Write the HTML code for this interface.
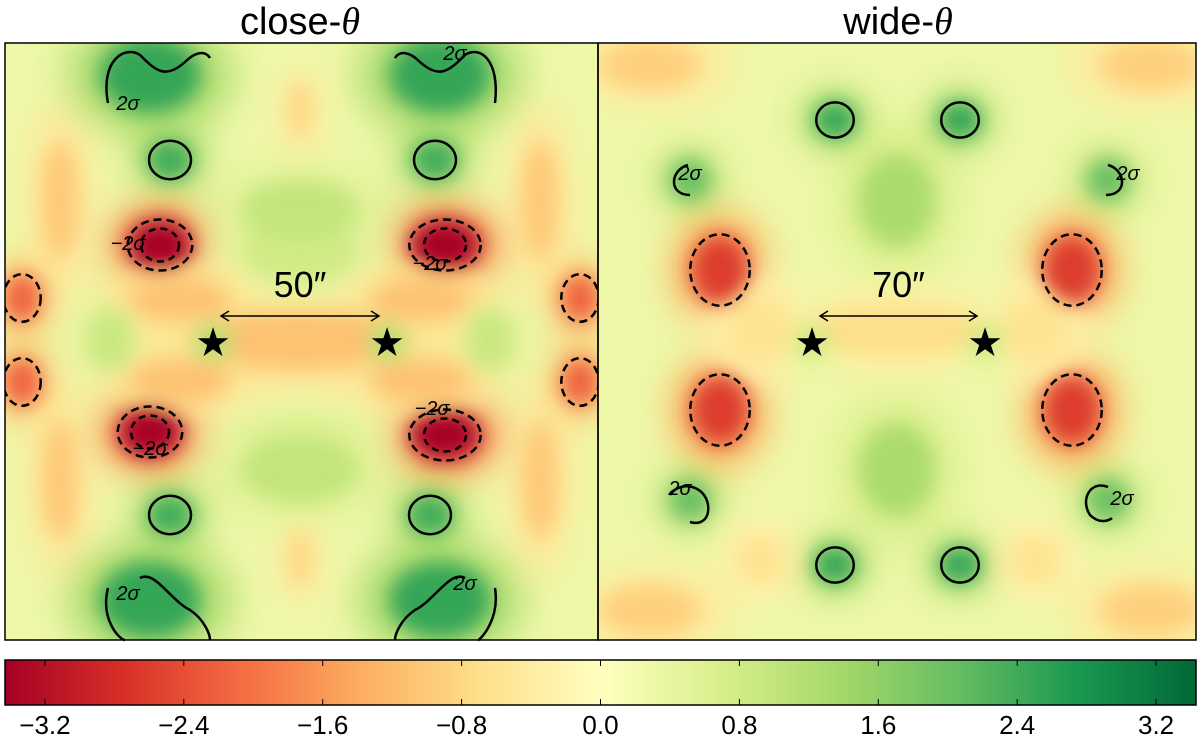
<!DOCTYPE html>
<html><head><meta charset="utf-8"><style>
body{margin:0;background:#fff;width:1200px;height:741px;overflow:hidden}
text{font-family:"Liberation Sans",sans-serif}
</style></head><body>
<svg id="s" width="1200" height="741" xmlns="http://www.w3.org/2000/svg">
<defs>
<filter id="b1" x="-50%" y="-50%" width="200%" height="200%"><feGaussianBlur stdDeviation="18"/></filter>
<filter id="b2" x="-50%" y="-50%" width="200%" height="200%"><feGaussianBlur stdDeviation="10"/></filter>
<clipPath id="cl"><rect x="5" y="43" width="593" height="597"/></clipPath>
<clipPath id="cr"><rect x="598" y="43" width="598" height="597"/></clipPath>
<linearGradient id="cg" x1="0" x2="1" y1="0" y2="0">
<stop offset="0" stop-color="#a50026"/><stop offset="0.1" stop-color="#d73027"/><stop offset="0.2" stop-color="#f46d43"/><stop offset="0.3" stop-color="#fdae61"/><stop offset="0.4" stop-color="#fee08b"/><stop offset="0.5" stop-color="#ffffbf"/><stop offset="0.6" stop-color="#d9ef8b"/><stop offset="0.7" stop-color="#a6d96a"/><stop offset="0.8" stop-color="#66bd63"/><stop offset="0.9" stop-color="#1a9850"/><stop offset="1" stop-color="#006837"/>
</linearGradient>
</defs>
<text x="300" y="34" font-size="38" text-anchor="middle">close-<tspan font-family="Liberation Serif" font-style="italic">θ</tspan></text>
<text x="898" y="34" font-size="38" text-anchor="middle">wide-<tspan font-family="Liberation Serif" font-style="italic">θ</tspan></text>
<g id="gl" clip-path="url(#cl)"></g>
<g id="gr" clip-path="url(#cr)"></g>
<g id="ov"></g>
<rect x="5" y="43" width="593" height="597" fill="none" stroke="#000" stroke-width="1.5"/>
<rect x="598" y="43" width="598" height="597" fill="none" stroke="#000" stroke-width="1.5"/>
<rect x="5" y="660" width="1191" height="45" fill="url(#cg)" stroke="#000" stroke-width="1.5"/>
<g id="cb"></g>
</svg>
<script>
const cbTicks=[-3.2,-2.4,-1.6,-0.8,0.0,0.8,1.6,2.4,3.2];
// blobs: cx, cy, rx, ry, value
const leftCx=[160,445,150,445,22,22,580,580,150,440,150,440,170,435,170,430,300,110,490,300,300,300,300,60,540,60,540,213,387,300,300,180,420,180,420];
const leftCy=[245,245,432,435,298,382,298,382,75,75,600,600,160,160,515,515,340,340,340,250,440,110,560,200,200,480,480,342,342,470,210,300,300,380,380];
const leftRx=[38,42,38,42,22,22,22,22,60,60,60,60,28,28,28,28,130,28,28,70,70,15,15,22,22,22,22,22,22,70,70,60,60,60,60];
const leftRy=[30,30,30,30,28,28,28,28,45,45,45,45,24,24,24,24,35,38,38,40,30,35,35,70,70,70,70,22,22,40,35,25,25,25,25];
const leftV=[-3.4,-3.4,-3.4,-3.4,-2.2,-2.2,-2.2,-2.2,2.5,2.5,2.5,2.5,2.4,2.4,2.4,2.4,-1.1,0.9,0.9,0.8,0.6,-0.8,-0.8,-1.0,-1.0,-1.0,-1.0,1.2,1.2,1.0,1.0,-1.1,-1.1,-1.1,-1.1];
const rightCx=[720,1072,720,1072,835,960,835,960,690,1108,690,1108,897,897,897,650,1150,650,1150,760,1035,760,1035,812,985];
const rightCy=[270,270,410,410,120,120,565,565,180,180,500,500,200,470,330,65,65,610,610,330,330,560,560,342,342];
const rightRx=[35,35,35,35,25,25,25,25,25,25,25,25,45,45,110,60,60,60,60,40,40,30,30,22,22];
const rightRy=[42,42,42,42,22,22,22,22,25,25,25,25,55,55,30,30,30,30,30,40,40,30,30,22,22];
const rightV=[-2.6,-2.6,-2.6,-2.6,2.5,2.5,2.5,2.5,2.0,2.0,2.0,2.0,1.3,1.3,-0.7,-0.9,-0.9,-0.9,-0.9,-0.6,-0.6,-0.6,-0.6,0.8,0.8];
const stops=["#a50026","#d73027","#f46d43","#fdae61","#fee08b","#ffffbf","#d9ef8b","#a6d96a","#66bd63","#1a9850","#006837"];
const vmin=-3.43,vmax=3.43;
const xCb=v=>5+(v-vmin)/(vmax-vmin)*1191;
function hex(h){return [1,3,5].map(i=>parseInt(h.substr(i,2),16));}
function col(v){let t=(v-vmin)/(vmax-vmin);t=Math.max(0,Math.min(1,t))*10;const i=Math.min(9,Math.floor(t)),f=t-i;const a=hex(stops[i]),b=hex(stops[i+1]);return 'rgb('+a.map((x,k)=>Math.round(x+(b[k]-x)*f)).join(',')+')';}
const NS='http://www.w3.org/2000/svg';
function mk(t,a,p){const e=document.createElementNS(NS,t);for(const k in a)e.setAttribute(k,a[k]);p.appendChild(e);return e;}
function panel(g,x0,w,cx,cy,rx,ry,v){
 const bg=mk('rect',{x:x0,y:43,width:w,height:597,fill:col(0.3)},g);
 
 
 const soft=mk('g',{filter:'url(#b1)'},g);
 for(let i=0;i<cx.length;i++){
  const e=mk('ellipse',{cx:cx[i],cy:cy[i],rx:rx[i]*1.4,ry:ry[i]*1.4,fill:col(v[i]*0.5)},soft);
  
  
 }
 const core=mk('g',{filter:'url(#b2)'},g);
 for(let i=0;i<cx.length;i++){
  const e=mk('ellipse',{cx:cx[i],cy:cy[i],rx:rx[i]*0.85,ry:ry[i]*0.85,fill:col(v[i])},core);
  
  
 }
}
panel(document.getElementById('gl'),5,593,leftCx,leftCy,leftRx,leftRy,leftV);
panel(document.getElementById('gr'),598,598,rightCx,rightCy,rightRx,rightRy,rightV);
const ov=document.getElementById('ov');
function contours(cx,cy,rx,ry,v,g){
 for(let i=0;i<cx.length;i++){
  if(Math.abs(v[i])<1.9)continue;
  const neg=v[i]<0;
  if(!neg&&rx[i]>=50)continue; // corner regions drawn as arcs
  if(!neg&&rx[i]===25&&ry[i]===25&&v[i]<2.2)continue;
  const cp=mk('ellipse',{cx:cx[i],cy:cy[i],rx:rx[i]*(neg?0.85:0.75),ry:ry[i]*(neg?0.85:0.8),fill:'none',stroke:'#000','stroke-width':2.5,'stroke-dasharray':neg?'8,5':'none'},g);
  
  
  if(v[i]<-3){const c2=mk('ellipse',{cx:cx[i],cy:cy[i],rx:rx[i]*0.5,ry:ry[i]*0.55,fill:'none',stroke:'#000','stroke-width':2.5,'stroke-dasharray':'7,5'},g);
   
   }
 }
}
const cg1=mk('g',{'clip-path':'url(#cl)'},ov);
contours(leftCx,leftCy,leftRx,leftRy,leftV,cg1);
const cg2=mk('g',{'clip-path':'url(#cr)'},ov);
contours(rightCx,rightCy,rightRx,rightRy,rightV,cg2);
// open arcs
const arcs=['M108,103 C100,60 125,45 140,55 C155,70 165,80 185,62 C195,52 205,50 210,58',
'M495,103 C500,60 480,45 465,55 C450,70 440,80 420,62 C410,52 400,50 395,58',
'M108,588 C100,620 120,640 125,640 M140,578 C155,570 170,600 190,610 C205,620 210,635 210,640',
'M495,588 C500,620 480,640 478,640 M465,578 C450,570 435,600 415,610 C400,620 395,635 395,640',
'M688,165 C670,170 668,195 690,195','M1108,165 C1126,170 1128,195 1106,195',
'M670,495 C680,480 705,485 708,505 C710,520 700,525 690,522','M1108,487 C1090,480 1080,500 1090,515 C1100,525 1110,520 1112,518'];
arcs.forEach(d=>{const p=mk('path',{d:d,fill:'none',stroke:'#000','stroke-width':2.5},ov);
 
 });
// sigma labels
const sl=[[128,110,'2σ'],[455,60,'2σ'],[128,600,'2σ'],[465,590,'2σ'],[128,250,'−2σ'],[430,270,'−2σ'],[150,455,'−2σ'],[432,415,'−2σ'],[690,180,'2σ'],[1128,180,'2σ'],[680,495,'2σ'],[1122,505,'2σ']];
sl.forEach(s=>{const t=mk('text',{x:s[0],y:s[1],'font-size':20,'font-family':'Liberation Serif','font-style':'italic','text-anchor':'middle'},ov);t.textContent=s[2];
 
 });
// stars & arrows
const starX=[213,387,812,985],starLbl=['50″','70″'];
for(let k=0;k<4;k++){const t=mk('text',{x:starX[k],y:356,'font-size':40,'text-anchor':'middle'},ov);t.textContent='★';
 
 }
for(let k=0;k<2;k++){const a=starX[2*k]+8,b=starX[2*k+1]-8;
 const l=mk('path',{d:`M${a},316 L${b},316 M${a+8},311 L${a},316 L${a+8},321 M${b-8},311 L${b},316 L${b-8},321`,stroke:'#000','stroke-width':1.5,fill:'none'},ov);
 
 
 const t=mk('text',{x:(a+b)/2,y:297,'font-size':36,'text-anchor':'middle','font-family':'Liberation Serif'},ov);t.textContent=starLbl[k];
 
 }
// colorbar ticks
const cb=document.getElementById('cb');
cbTicks.forEach(v=>{const x=xCb(v);
 const l=mk('line',{x1:x,x2:x,y1:660,y2:666,stroke:'#000','stroke-width':1},cb);
 
 
 const l2=mk('line',{x1:x,x2:x,y1:699,y2:705,stroke:'#000','stroke-width':1},cb);
 
 
 const t=mk('text',{x:x,y:734,'font-size':26,'text-anchor':'middle'},cb);t.textContent=(v<0?'−':'')+Math.abs(v).toFixed(1);
 
 });
</script>
</body></html>
